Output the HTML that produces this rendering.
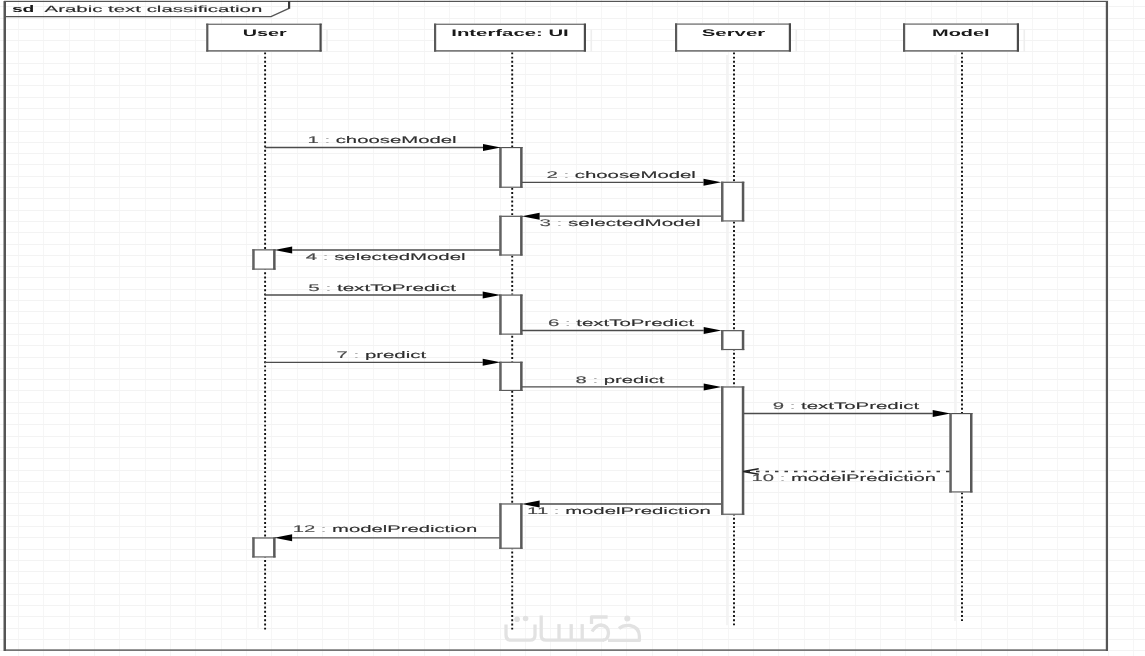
<!DOCTYPE html>
<html><head><meta charset="utf-8"><style>
html,body{margin:0;padding:0;background:#fff;}
body{width:1145px;height:656px;overflow:hidden;}
svg{display:block;font-family:"Liberation Sans",sans-serif;}
text{-webkit-font-smoothing:antialiased;text-rendering:geometricPrecision;}
svg{will-change:transform;filter:blur(0.3px);}
</style></head><body>
<svg width="1145" height="656" viewBox="0 0 1145 656">
<rect width="1145" height="656" fill="#fff"/>
<g stroke-width="1" shape-rendering="crispEdges"><line x1="18.4" y1="0" x2="18.4" y2="656" stroke="#f6f6f6"/><line x1="43.8" y1="0" x2="43.8" y2="656" stroke="#f6f6f6"/><line x1="69.1" y1="0" x2="69.1" y2="656" stroke="#f6f6f6"/><line x1="94.4" y1="0" x2="94.4" y2="656" stroke="#f6f6f6"/><line x1="119.8" y1="0" x2="119.8" y2="656" stroke="#f6f6f6"/><line x1="145.1" y1="0" x2="145.1" y2="656" stroke="#f6f6f6"/><line x1="170.5" y1="0" x2="170.5" y2="656" stroke="#f6f6f6"/><line x1="195.8" y1="0" x2="195.8" y2="656" stroke="#f6f6f6"/><line x1="221.2" y1="0" x2="221.2" y2="656" stroke="#f6f6f6"/><line x1="246.5" y1="0" x2="246.5" y2="656" stroke="#f6f6f6"/><line x1="271.9" y1="0" x2="271.9" y2="656" stroke="#f6f6f6"/><line x1="297.2" y1="0" x2="297.2" y2="656" stroke="#f6f6f6"/><line x1="322.6" y1="0" x2="322.6" y2="656" stroke="#f6f6f6"/><line x1="348.0" y1="0" x2="348.0" y2="656" stroke="#f6f6f6"/><line x1="373.3" y1="0" x2="373.3" y2="656" stroke="#f6f6f6"/><line x1="398.7" y1="0" x2="398.7" y2="656" stroke="#f6f6f6"/><line x1="424.0" y1="0" x2="424.0" y2="656" stroke="#f6f6f6"/><line x1="449.4" y1="0" x2="449.4" y2="656" stroke="#f6f6f6"/><line x1="474.7" y1="0" x2="474.7" y2="656" stroke="#f6f6f6"/><line x1="500.1" y1="0" x2="500.1" y2="656" stroke="#f6f6f6"/><line x1="525.4" y1="0" x2="525.4" y2="656" stroke="#f6f6f6"/><line x1="550.8" y1="0" x2="550.8" y2="656" stroke="#f6f6f6"/><line x1="576.1" y1="0" x2="576.1" y2="656" stroke="#f6f6f6"/><line x1="601.5" y1="0" x2="601.5" y2="656" stroke="#f6f6f6"/><line x1="626.8" y1="0" x2="626.8" y2="656" stroke="#f6f6f6"/><line x1="652.2" y1="0" x2="652.2" y2="656" stroke="#f6f6f6"/><line x1="677.5" y1="0" x2="677.5" y2="656" stroke="#f6f6f6"/><line x1="702.9" y1="0" x2="702.9" y2="656" stroke="#f6f6f6"/><line x1="728.2" y1="0" x2="728.2" y2="656" stroke="#f6f6f6"/><line x1="753.6" y1="0" x2="753.6" y2="656" stroke="#f6f6f6"/><line x1="778.9" y1="0" x2="778.9" y2="656" stroke="#f6f6f6"/><line x1="804.3" y1="0" x2="804.3" y2="656" stroke="#f6f6f6"/><line x1="829.6" y1="0" x2="829.6" y2="656" stroke="#f6f6f6"/><line x1="855.0" y1="0" x2="855.0" y2="656" stroke="#f6f6f6"/><line x1="880.3" y1="0" x2="880.3" y2="656" stroke="#f6f6f6"/><line x1="905.7" y1="0" x2="905.7" y2="656" stroke="#f6f6f6"/><line x1="931.0" y1="0" x2="931.0" y2="656" stroke="#f6f6f6"/><line x1="956.4" y1="0" x2="956.4" y2="656" stroke="#f6f6f6"/><line x1="981.7" y1="0" x2="981.7" y2="656" stroke="#f6f6f6"/><line x1="1007.1" y1="0" x2="1007.1" y2="656" stroke="#f6f6f6"/><line x1="1032.4" y1="0" x2="1032.4" y2="656" stroke="#f6f6f6"/><line x1="1057.8" y1="0" x2="1057.8" y2="656" stroke="#f6f6f6"/><line x1="1083.1" y1="0" x2="1083.1" y2="656" stroke="#f6f6f6"/><line x1="1108.5" y1="0" x2="1108.5" y2="656" stroke="#f6f6f6"/><line x1="1133.8" y1="0" x2="1133.8" y2="656" stroke="#f6f6f6"/><line x1="0" y1="6.7" x2="1145" y2="6.7" stroke="#f3f3f3"/><line x1="0" y1="18.0" x2="1145" y2="18.0" stroke="#f3f3f3"/><line x1="0" y1="29.3" x2="1145" y2="29.3" stroke="#f3f3f3"/><line x1="0" y1="40.6" x2="1145" y2="40.6" stroke="#f3f3f3"/><line x1="0" y1="51.9" x2="1145" y2="51.9" stroke="#f3f3f3"/><line x1="0" y1="63.2" x2="1145" y2="63.2" stroke="#f3f3f3"/><line x1="0" y1="74.5" x2="1145" y2="74.5" stroke="#f3f3f3"/><line x1="0" y1="85.8" x2="1145" y2="85.8" stroke="#f3f3f3"/><line x1="0" y1="97.1" x2="1145" y2="97.1" stroke="#f3f3f3"/><line x1="0" y1="108.4" x2="1145" y2="108.4" stroke="#f3f3f3"/><line x1="0" y1="119.7" x2="1145" y2="119.7" stroke="#f3f3f3"/><line x1="0" y1="131.0" x2="1145" y2="131.0" stroke="#f3f3f3"/><line x1="0" y1="142.3" x2="1145" y2="142.3" stroke="#f3f3f3"/><line x1="0" y1="153.6" x2="1145" y2="153.6" stroke="#f3f3f3"/><line x1="0" y1="164.9" x2="1145" y2="164.9" stroke="#f3f3f3"/><line x1="0" y1="176.2" x2="1145" y2="176.2" stroke="#f3f3f3"/><line x1="0" y1="187.5" x2="1145" y2="187.5" stroke="#f3f3f3"/><line x1="0" y1="198.8" x2="1145" y2="198.8" stroke="#f3f3f3"/><line x1="0" y1="210.1" x2="1145" y2="210.1" stroke="#f3f3f3"/><line x1="0" y1="221.4" x2="1145" y2="221.4" stroke="#f3f3f3"/><line x1="0" y1="232.7" x2="1145" y2="232.7" stroke="#f3f3f3"/><line x1="0" y1="244.0" x2="1145" y2="244.0" stroke="#f3f3f3"/><line x1="0" y1="255.3" x2="1145" y2="255.3" stroke="#f3f3f3"/><line x1="0" y1="266.6" x2="1145" y2="266.6" stroke="#f3f3f3"/><line x1="0" y1="277.9" x2="1145" y2="277.9" stroke="#f3f3f3"/><line x1="0" y1="289.2" x2="1145" y2="289.2" stroke="#f3f3f3"/><line x1="0" y1="300.5" x2="1145" y2="300.5" stroke="#f3f3f3"/><line x1="0" y1="311.8" x2="1145" y2="311.8" stroke="#f3f3f3"/><line x1="0" y1="323.1" x2="1145" y2="323.1" stroke="#f3f3f3"/><line x1="0" y1="334.4" x2="1145" y2="334.4" stroke="#f3f3f3"/><line x1="0" y1="345.7" x2="1145" y2="345.7" stroke="#f3f3f3"/><line x1="0" y1="357.0" x2="1145" y2="357.0" stroke="#f3f3f3"/><line x1="0" y1="368.3" x2="1145" y2="368.3" stroke="#f3f3f3"/><line x1="0" y1="379.6" x2="1145" y2="379.6" stroke="#f3f3f3"/><line x1="0" y1="390.9" x2="1145" y2="390.9" stroke="#f3f3f3"/><line x1="0" y1="402.2" x2="1145" y2="402.2" stroke="#f3f3f3"/><line x1="0" y1="413.5" x2="1145" y2="413.5" stroke="#f3f3f3"/><line x1="0" y1="424.8" x2="1145" y2="424.8" stroke="#f3f3f3"/><line x1="0" y1="436.1" x2="1145" y2="436.1" stroke="#f3f3f3"/><line x1="0" y1="447.4" x2="1145" y2="447.4" stroke="#f3f3f3"/><line x1="0" y1="458.7" x2="1145" y2="458.7" stroke="#f3f3f3"/><line x1="0" y1="470.0" x2="1145" y2="470.0" stroke="#f3f3f3"/><line x1="0" y1="481.3" x2="1145" y2="481.3" stroke="#f3f3f3"/><line x1="0" y1="492.6" x2="1145" y2="492.6" stroke="#f3f3f3"/><line x1="0" y1="503.9" x2="1145" y2="503.9" stroke="#f3f3f3"/><line x1="0" y1="515.2" x2="1145" y2="515.2" stroke="#f3f3f3"/><line x1="0" y1="526.5" x2="1145" y2="526.5" stroke="#f3f3f3"/><line x1="0" y1="537.8" x2="1145" y2="537.8" stroke="#f3f3f3"/><line x1="0" y1="549.1" x2="1145" y2="549.1" stroke="#f3f3f3"/><line x1="0" y1="560.4" x2="1145" y2="560.4" stroke="#f3f3f3"/><line x1="0" y1="571.7" x2="1145" y2="571.7" stroke="#f3f3f3"/><line x1="0" y1="583.0" x2="1145" y2="583.0" stroke="#f3f3f3"/><line x1="0" y1="594.3" x2="1145" y2="594.3" stroke="#f3f3f3"/><line x1="0" y1="605.6" x2="1145" y2="605.6" stroke="#f3f3f3"/><line x1="0" y1="616.9" x2="1145" y2="616.9" stroke="#f3f3f3"/><line x1="0" y1="628.2" x2="1145" y2="628.2" stroke="#f3f3f3"/><line x1="0" y1="639.5" x2="1145" y2="639.5" stroke="#f3f3f3"/><line x1="0" y1="650.8" x2="1145" y2="650.8" stroke="#f3f3f3"/></g>
<rect x="3.5" y="1" width="2.5" height="650" fill="#555"/>
<rect x="1105.8" y="1" width="2.2" height="650" fill="#555"/>
<rect x="4" y="0.8" width="1104" height="1.2" fill="#555"/>
<rect x="4" y="649.4" width="1104" height="1.4" fill="#555"/>
<path d="M5,16.6 H271 L289,8.4" fill="none" stroke="#555" stroke-width="1.4"/>
<rect x="288" y="1" width="2.2" height="7.8" fill="#3a3a3a"/>
<text transform="translate(11.90,11.70) scale(2.0295,1)" font-size="9.5" font-weight="bold" fill="#1a1a1a" stroke="#1a1a1a" stroke-width="0.0" >sd</text>
<text transform="translate(44.60,11.80) scale(2.2668,1)" font-size="9.0" font-weight="normal" fill="#2a2a2a" stroke="#2a2a2a" stroke-width="0.12" >Arabic text classification</text>
<rect x="326.2" y="29.6" width="1.6" height="22.0" fill="#eeeeee"/><rect x="206.2" y="23.6" width="115.5" height="28.0" fill="#fff"/><rect x="206.2" y="23.6" width="115.5" height="1.4" fill="#7a7a7a"/><rect x="206.2" y="50.2" width="115.5" height="1.4" fill="#5e5e5e"/><rect x="206.2" y="23.6" width="2.2" height="28.0" fill="#5a5a5a"/><rect x="319.5" y="23.6" width="2.2" height="28.0" fill="#4a4a4a"/>
<text transform="translate(242.70,36.20) scale(2.0825,1)" font-size="9.5" font-weight="bold" fill="#1a1a1a" stroke="#1a1a1a" stroke-width="0.0" >User</text>
<rect x="590.5" y="29.6" width="1.6" height="22.0" fill="#eeeeee"/><rect x="434" y="23.6" width="152" height="28.0" fill="#fff"/><rect x="434" y="23.6" width="152" height="1.4" fill="#7a7a7a"/><rect x="434" y="50.2" width="152" height="1.4" fill="#5e5e5e"/><rect x="434" y="23.6" width="2.2" height="28.0" fill="#5a5a5a"/><rect x="583.8" y="23.6" width="2.2" height="28.0" fill="#4a4a4a"/>
<text transform="translate(451.30,36.20) scale(2.1384,1)" font-size="9.5" font-weight="bold" fill="#1a1a1a" stroke="#1a1a1a" stroke-width="0.0" >Interface: UI</text>
<rect x="795.5" y="29.4" width="1.6" height="22.200000000000003" fill="#eeeeee"/><rect x="675" y="23.4" width="116" height="28.200000000000003" fill="#fff"/><rect x="675" y="23.4" width="116" height="1.4" fill="#7a7a7a"/><rect x="675" y="50.2" width="116" height="1.4" fill="#5e5e5e"/><rect x="675" y="23.4" width="2.2" height="28.200000000000003" fill="#5a5a5a"/><rect x="788.8" y="23.4" width="2.2" height="28.200000000000003" fill="#4a4a4a"/>
<text transform="translate(701.70,36.20) scale(2.1465,1)" font-size="9.5" font-weight="bold" fill="#1a1a1a" stroke="#1a1a1a" stroke-width="0.0" >Server</text>
<rect x="1023.5" y="29.4" width="1.6" height="22.200000000000003" fill="#eeeeee"/><rect x="903" y="23.4" width="116" height="28.200000000000003" fill="#fff"/><rect x="903" y="23.4" width="116" height="1.4" fill="#7a7a7a"/><rect x="903" y="50.2" width="116" height="1.4" fill="#5e5e5e"/><rect x="903" y="23.4" width="2.2" height="28.200000000000003" fill="#5a5a5a"/><rect x="1016.8" y="23.4" width="2.2" height="28.200000000000003" fill="#4a4a4a"/>
<text transform="translate(932.10,36.20) scale(2.0951,1)" font-size="9.5" font-weight="bold" fill="#1a1a1a" stroke="#1a1a1a" stroke-width="0.0" >Model</text>
<rect x="257.3" y="55" width="1.6" height="574.4" fill="#f5f5f5"/>
<line x1="265.1" y1="52.4" x2="265.1" y2="629.4" stroke="#111" stroke-width="1.9" stroke-dasharray="1.95 2.28"/>
<line x1="512.2" y1="52.4" x2="512.2" y2="629.4" stroke="#111" stroke-width="1.9" stroke-dasharray="1.95 2.28"/>
<rect x="726.2" y="55" width="1.6" height="570.2" fill="#f2f2f2"/>
<line x1="734.0" y1="52.4" x2="734.0" y2="625.2" stroke="#111" stroke-width="1.9" stroke-dasharray="1.95 2.28"/>
<rect x="954.2" y="55" width="1.6" height="566.0" fill="#f2f2f2"/>
<line x1="962.0" y1="52.4" x2="962.0" y2="621.0" stroke="#111" stroke-width="1.9" stroke-dasharray="1.95 2.28"/>
<rect x="499.2" y="147.0" width="23.400000000000034" height="40.80000000000001" fill="#fff"/><rect x="499.2" y="147.0" width="23.400000000000034" height="1.15" fill="#505050"/><rect x="499.2" y="186.65" width="23.400000000000034" height="1.15" fill="#5a5a5a"/><rect x="499.2" y="147.0" width="2.5" height="40.80000000000001" fill="#626262"/><rect x="520.1" y="147.0" width="2.5" height="40.80000000000001" fill="#585858"/>
<rect x="499.2" y="215.70000000000002" width="23.400000000000034" height="39.89999999999998" fill="#fff"/><rect x="499.2" y="215.70000000000002" width="23.400000000000034" height="1.15" fill="#505050"/><rect x="499.2" y="254.45" width="23.400000000000034" height="1.15" fill="#5a5a5a"/><rect x="499.2" y="215.70000000000002" width="2.5" height="39.89999999999998" fill="#626262"/><rect x="520.1" y="215.70000000000002" width="2.5" height="39.89999999999998" fill="#585858"/>
<rect x="499.2" y="294.5" width="23.400000000000034" height="40.19999999999999" fill="#fff"/><rect x="499.2" y="294.5" width="23.400000000000034" height="1.15" fill="#505050"/><rect x="499.2" y="333.55" width="23.400000000000034" height="1.15" fill="#5a5a5a"/><rect x="499.2" y="294.5" width="2.5" height="40.19999999999999" fill="#626262"/><rect x="520.1" y="294.5" width="2.5" height="40.19999999999999" fill="#585858"/>
<rect x="499.2" y="361.7" width="23.400000000000034" height="29.30000000000001" fill="#fff"/><rect x="499.2" y="361.7" width="23.400000000000034" height="1.15" fill="#505050"/><rect x="499.2" y="389.85" width="23.400000000000034" height="1.15" fill="#5a5a5a"/><rect x="499.2" y="361.7" width="2.5" height="29.30000000000001" fill="#626262"/><rect x="520.1" y="361.7" width="2.5" height="29.30000000000001" fill="#585858"/>
<rect x="499.2" y="503.4" width="23.400000000000034" height="45.39999999999998" fill="#fff"/><rect x="499.2" y="503.4" width="23.400000000000034" height="1.15" fill="#505050"/><rect x="499.2" y="547.65" width="23.400000000000034" height="1.15" fill="#5a5a5a"/><rect x="499.2" y="503.4" width="2.5" height="45.39999999999998" fill="#626262"/><rect x="520.1" y="503.4" width="2.5" height="45.39999999999998" fill="#585858"/>
<rect x="721.0" y="181.70000000000002" width="23.299999999999955" height="39.79999999999998" fill="#fff"/><rect x="721.0" y="181.70000000000002" width="23.299999999999955" height="1.15" fill="#505050"/><rect x="721.0" y="220.35" width="23.299999999999955" height="1.15" fill="#5a5a5a"/><rect x="721.0" y="181.70000000000002" width="2.5" height="39.79999999999998" fill="#626262"/><rect x="741.8" y="181.70000000000002" width="2.5" height="39.79999999999998" fill="#585858"/>
<rect x="721.0" y="330.09999999999997" width="23.299999999999955" height="20.000000000000057" fill="#fff"/><rect x="721.0" y="330.09999999999997" width="23.299999999999955" height="1.15" fill="#505050"/><rect x="721.0" y="348.95000000000005" width="23.299999999999955" height="1.15" fill="#5a5a5a"/><rect x="721.0" y="330.09999999999997" width="2.5" height="20.000000000000057" fill="#626262"/><rect x="741.8" y="330.09999999999997" width="2.5" height="20.000000000000057" fill="#585858"/>
<rect x="721.0" y="386.4" width="23.299999999999955" height="128.39999999999998" fill="#fff"/><rect x="721.0" y="386.4" width="23.299999999999955" height="1.15" fill="#505050"/><rect x="721.0" y="513.65" width="23.299999999999955" height="1.15" fill="#5a5a5a"/><rect x="721.0" y="386.4" width="2.5" height="128.39999999999998" fill="#626262"/><rect x="741.8" y="386.4" width="2.5" height="128.39999999999998" fill="#585858"/>
<rect x="949.3" y="413.0" width="23.200000000000045" height="79.5" fill="#fff"/><rect x="949.3" y="413.0" width="23.200000000000045" height="1.15" fill="#505050"/><rect x="949.3" y="491.35" width="23.200000000000045" height="1.15" fill="#5a5a5a"/><rect x="949.3" y="413.0" width="2.5" height="79.5" fill="#626262"/><rect x="970.0" y="413.0" width="2.5" height="79.5" fill="#585858"/>
<rect x="252.2" y="249.3" width="23.399999999999977" height="20.399999999999977" fill="#fff"/><rect x="252.2" y="249.3" width="23.399999999999977" height="1.15" fill="#505050"/><rect x="252.2" y="268.55" width="23.399999999999977" height="1.15" fill="#5a5a5a"/><rect x="252.2" y="249.3" width="2.5" height="20.399999999999977" fill="#626262"/><rect x="273.09999999999997" y="249.3" width="2.5" height="20.399999999999977" fill="#585858"/>
<rect x="252.2" y="537.4" width="23.399999999999977" height="20.100000000000023" fill="#fff"/><rect x="252.2" y="537.4" width="23.399999999999977" height="1.15" fill="#505050"/><rect x="252.2" y="556.35" width="23.399999999999977" height="1.15" fill="#5a5a5a"/><rect x="252.2" y="537.4" width="2.5" height="20.100000000000023" fill="#626262"/><rect x="273.09999999999997" y="537.4" width="2.5" height="20.100000000000023" fill="#585858"/>
<line x1="265" y1="147.5" x2="483.0" y2="147.5" stroke="#4c4c4c" stroke-width="1.3"/><path d="M483.0,144.0 L500.8,147.5 L483.0,151.0 Z" fill="#000"/><text transform="translate(307.40,143.20) scale(2.1180,1)" font-size="9.6" font-weight="normal" fill="#2e2e2e" stroke="#2e2e2e" stroke-width="0.12" ><tspan fill="#484848" stroke="#484848">1 </tspan><tspan fill="#b0b0b0" stroke="#b0b0b0">:</tspan> chooseModel</text>
<line x1="522" y1="182.3" x2="703.5" y2="182.3" stroke="#4c4c4c" stroke-width="1.3"/><path d="M703.5,178.8 L721.3,182.3 L703.5,185.8 Z" fill="#000"/><text transform="translate(546.50,177.70) scale(2.1208,1)" font-size="9.6" font-weight="normal" fill="#2e2e2e" stroke="#2e2e2e" stroke-width="0.12" ><tspan fill="#484848" stroke="#484848">2 </tspan><tspan fill="#b0b0b0" stroke="#b0b0b0">:</tspan> chooseModel</text>
<line x1="721" y1="216.2" x2="539.5999999999999" y2="216.2" stroke="#4c4c4c" stroke-width="1.3"/><path d="M539.5999999999999,212.7 L521.8,216.2 L539.5999999999999,219.7 Z" fill="#000"/><text transform="translate(539.40,225.60) scale(2.1423,1)" font-size="9.6" font-weight="normal" fill="#2e2e2e" stroke="#2e2e2e" stroke-width="0.12" ><tspan fill="#484848" stroke="#484848">3 </tspan><tspan fill="#b0b0b0" stroke="#b0b0b0">:</tspan> selectedModel</text>
<line x1="499.5" y1="250.0" x2="292.2" y2="250.0" stroke="#4c4c4c" stroke-width="1.3"/><path d="M292.2,246.5 L274.4,250.0 L292.2,253.5 Z" fill="#000"/><text transform="translate(305.80,260.00) scale(2.1237,1)" font-size="9.6" font-weight="normal" fill="#2e2e2e" stroke="#2e2e2e" stroke-width="0.12" ><tspan fill="#484848" stroke="#484848">4 </tspan><tspan fill="#b0b0b0" stroke="#b0b0b0">:</tspan> selectedModel</text>
<line x1="265" y1="295.0" x2="482.7" y2="295.0" stroke="#4c4c4c" stroke-width="1.3"/><path d="M482.7,291.5 L500.5,295.0 L482.7,298.5 Z" fill="#000"/><text transform="translate(308.30,290.70) scale(2.1458,1)" font-size="9.6" font-weight="normal" fill="#2e2e2e" stroke="#2e2e2e" stroke-width="0.12" ><tspan fill="#484848" stroke="#484848">5 </tspan><tspan fill="#b0b0b0" stroke="#b0b0b0">:</tspan> textToPredict</text>
<line x1="522" y1="330.5" x2="703.7" y2="330.5" stroke="#4c4c4c" stroke-width="1.3"/><path d="M703.7,327.0 L721.5,330.5 L703.7,334.0 Z" fill="#000"/><text transform="translate(547.90,326.20) scale(2.1269,1)" font-size="9.6" font-weight="normal" fill="#2e2e2e" stroke="#2e2e2e" stroke-width="0.12" ><tspan fill="#484848" stroke="#484848">6 </tspan><tspan fill="#b0b0b0" stroke="#b0b0b0">:</tspan> textToPredict</text>
<line x1="265" y1="362.3" x2="482.7" y2="362.3" stroke="#4c4c4c" stroke-width="1.3"/><path d="M482.7,358.8 L500.5,362.3 L482.7,365.8 Z" fill="#000"/><text transform="translate(336.50,357.80) scale(2.1256,1)" font-size="9.6" font-weight="normal" fill="#2e2e2e" stroke="#2e2e2e" stroke-width="0.12" ><tspan fill="#484848" stroke="#484848">7 </tspan><tspan fill="#b0b0b0" stroke="#b0b0b0">:</tspan> predict</text>
<line x1="522" y1="386.9" x2="703.7" y2="386.9" stroke="#4c4c4c" stroke-width="1.3"/><path d="M703.7,383.4 L721.5,386.9 L703.7,390.4 Z" fill="#000"/><text transform="translate(575.60,382.70) scale(2.1066,1)" font-size="9.6" font-weight="normal" fill="#2e2e2e" stroke="#2e2e2e" stroke-width="0.12" ><tspan fill="#484848" stroke="#484848">8 </tspan><tspan fill="#b0b0b0" stroke="#b0b0b0">:</tspan> predict</text>
<line x1="743.8" y1="413.5" x2="932.7" y2="413.5" stroke="#4c4c4c" stroke-width="1.3"/><path d="M932.7,410.0 L950.5,413.5 L932.7,417.0 Z" fill="#000"/><text transform="translate(772.70,408.70) scale(2.1269,1)" font-size="9.6" font-weight="normal" fill="#2e2e2e" stroke="#2e2e2e" stroke-width="0.12" ><tspan fill="#484848" stroke="#484848">9 </tspan><tspan fill="#b0b0b0" stroke="#b0b0b0">:</tspan> textToPredict</text>
<line x1="949.5" y1="471.5" x2="743.2" y2="471.5" stroke="#3c3c3c" stroke-width="1.5" stroke-dasharray="3.5 6"/><path d="M758.7,468.7 L743.2,471.5 L758.7,474.3" fill="none" stroke="#222" stroke-width="1.4"/><text transform="translate(751.50,480.90) scale(2.1082,1)" font-size="9.6" font-weight="normal" fill="#2e2e2e" stroke="#2e2e2e" stroke-width="0.12" ><tspan fill="#484848" stroke="#484848">10 </tspan><tspan fill="#b0b0b0" stroke="#b0b0b0">:</tspan> modelPrediction</text>
<line x1="721" y1="504.0" x2="539.5999999999999" y2="504.0" stroke="#4c4c4c" stroke-width="1.3"/><path d="M539.5999999999999,500.5 L521.8,504.0 L539.5999999999999,507.5 Z" fill="#000"/><text transform="translate(527.10,513.50) scale(2.1174,1)" font-size="9.6" font-weight="normal" fill="#2e2e2e" stroke="#2e2e2e" stroke-width="0.12" ><tspan fill="#484848" stroke="#484848">11 </tspan><tspan fill="#b0b0b0" stroke="#b0b0b0">:</tspan> modelPrediction</text>
<line x1="499.5" y1="537.8" x2="292.1" y2="537.8" stroke="#4c4c4c" stroke-width="1.3"/><path d="M292.1,534.3 L274.3,537.8 L292.1,541.3 Z" fill="#000"/><text transform="translate(292.70,532.40) scale(2.1094,1)" font-size="9.6" font-weight="normal" fill="#2e2e2e" stroke="#2e2e2e" stroke-width="0.12" ><tspan fill="#484848" stroke="#484848">12 </tspan><tspan fill="#b0b0b0" stroke="#b0b0b0">:</tspan> modelPrediction</text>
<g fill="none" stroke="#e2e2e2" stroke-width="3.3" stroke-linejoin="round"><path d="M506,624.4 V635 Q506,640.2 511,640.2 H530 Q535,640.2 535,635 V624.4"/><path d="M541.2,615.6 V635.5 Q541.2,640.2 546,640.2 H604"/><path d="M559,624.1 V640"/><path d="M571.2,624.1 V640"/><path d="M582.2,624.1 V640"/><path d="M607.6,617 H591.5 V624"/><path d="M592,631.5 Q596,625 601,625 Q608.5,626 608.5,633 Q608,640 603,640.2"/><path d="M608,640.4 H639.4 V636 Q639,627 630,625.5 Q623,625 619,628.5"/></g><g fill="#e2e2e2"><circle cx="517.1" cy="619.3" r="2.8"/><circle cx="525.6" cy="618.5" r="2.8"/><circle cx="627.3" cy="618.5" r="3"/></g>
</svg>
</body></html>
